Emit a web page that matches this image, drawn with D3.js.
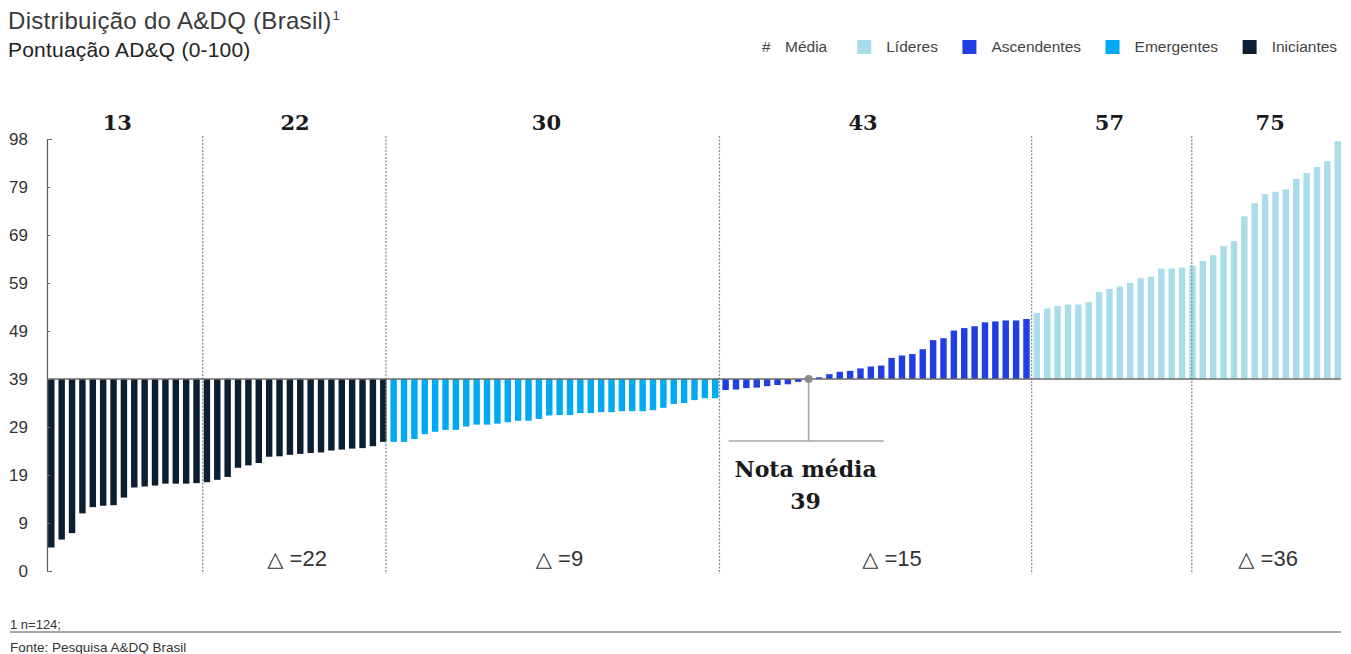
<!DOCTYPE html>
<html lang="pt-BR">
<head>
<meta charset="utf-8">
<title>Distribuição do A&amp;DQ (Brasil)</title>
<script src="https://cdn.jsdelivr.net/npm/d3@7"></script>
<style>
  html, body { margin: 0; padding: 0; background: #fff; }
  svg { display: block; }
  text { font-family: "Liberation Sans", Arial, Helvetica, sans-serif; }
  .serif { font-family: "DejaVu Serif", "Liberation Serif", Georgia, serif; font-weight: bold; }
</style>
</head>
<body>
<svg id="chart" width="1351" height="654"></svg>
<script>
// Pontuação AD&Q por empresa, ordenada, agrupada por estágio
const iniciantes = [4.4, 5.9, 7.1, 11.0, 12.3, 12.6, 12.7, 14.3, 16.4, 16.6, 16.8, 17.2, 17.2, 17.2, 17.3,
  17.5, 18.0, 18.6, 20.5, 21.0, 21.5, 22.8, 22.9, 23.2, 23.4, 23.6, 23.7, 24.1, 24.3, 24.5, 24.6, 25.0, 25.9];
const emergentes = [25.9, 25.9, 26.5, 27.5, 28.0, 28.4, 28.4, 29.1, 29.5, 29.5, 29.7, 30.0, 30.3, 30.3, 30.7, 31.4,
  31.5, 31.5, 31.9, 31.9, 32.1, 32.1, 32.3, 32.3, 32.3, 32.5, 33.0, 33.8, 34.0, 34.6, 35.0, 35.0];
const ascendentes = [36.7, 36.8, 37.1, 37.2, 37.5, 37.75, 37.9, 38.4, 39.0, 39.35, 40.0, 40.5, 40.7, 41.2, 41.6,
  41.8, 43.4, 43.9, 44.2, 45.2, 47.1, 47.5, 49.1, 49.6, 50.0, 50.8, 51.0, 51.2, 51.2, 51.5];
const lideres = [52.75, 53.7, 54.2, 54.5, 54.5, 55.0, 57.1, 57.75, 58.3, 59.0, 60.0, 60.3, 62.0, 62.0, 62.2,
  62.6, 63.6, 64.8, 66.7, 67.7, 72.9, 75.6, 77.5, 78.0, 78.5, 82.2, 84.5, 86.9, 89.2, 97.1];

const stageNames = ["Iniciantes", "Emergentes", "Ascendentes", "Líderes"];
const stageColors = ["#0c1f31", "#00aaf2", "#1f3fe3", "#a9dde9"];
const legendOrder = ["Líderes", "Ascendentes", "Emergentes", "Iniciantes"];

// Faixas: número de empresas por faixa, média da faixa e amplitude (Δ)
const bandSizes = [15, 18, 32, 30, 15, 15];
const bandMeans = [13, 22, 30, 43, 57, 75];
const bandDeltas = [null, 22, 9, 15, null, 36];

const yTicks = [0, 9, 19, 29, 39, 49, 59, 69, 79, 98];
const average = 39;

const title = "Distribuição do A&DQ (Brasil)";
const subtitle = "Pontuação AD&Q (0-100)";
const footnote = "1 n=124;";
const source = "Fonte: Pesquisa A&DQ Brasil";

// Tabela única de barras
const stages = [iniciantes, emergentes, ascendentes, lideres];
const data = [];
stages.forEach((vals, s) => vals.forEach(v => data.push({ i: data.length, v, stage: stageNames[s] })));

const svg = d3.select("#chart");
const plotLeft = 46, plotRight = 1343, plotTop = 139, plotBottom = 571;

const x = d3.scaleBand().domain(data.map(d => d.i)).range([plotLeft, plotRight]).paddingInner(0.38).paddingOuter(0.2);
// Eixo com marcas igualmente espaçadas (escala linear por trechos)
const y = d3.scaleLinear()
  .domain(yTicks)
  .range(yTicks.map((_, k) => plotBottom - k * (plotBottom - plotTop) / (yTicks.length - 1)));
const color = d3.scaleOrdinal().domain(stageNames).range(stageColors);

// Título
const t = svg.append("text").attr("x", 8).attr("y", 29).attr("font-size", 24)
  .attr("letter-spacing", 0.3).attr("fill", "#3a3a3a").text(title);
t.append("tspan").attr("font-size", 13).attr("dy", -9).attr("dx", 1).text("1");
svg.append("text").attr("x", 8).attr("y", 57).attr("font-size", 21).attr("letter-spacing", 0.2)
  .attr("fill", "#222").text(subtitle);

// Legenda
const lg = svg.append("g").attr("font-size", 15.5).attr("fill", "#444");
let lx = 762;
const legY = 52;
lg.append("text").attr("x", lx).attr("y", legY).text("#");
lx += 23;
const med = lg.append("text").attr("x", lx).attr("y", legY).text("Média");
lx += med.node().getComputedTextLength() + 30;
legendOrder.forEach(name => {
  lg.append("rect").attr("x", lx).attr("y", legY - 12).attr("width", 14).attr("height", 14).attr("fill", color(name));
  lx += 29;
  const tx = lg.append("text").attr("x", lx).attr("y", legY).text(name);
  lx += tx.node().getComputedTextLength() + 24.5;
});

// Limites das faixas
const bounds = [];
let acc = 0;
bandSizes.forEach(n => { bounds.push(acc); acc += n; });
bounds.push(acc);
const edgeX = k => {
  if (k === 0) return plotLeft + 1;
  if (k === data.length) return plotRight - 2;
  return (x(k - 1) + x.bandwidth() + x(k)) / 2;
};
// pequenos ajustes horizontais das divisórias e dos rótulos de cada faixa
const dividerNudge = [1, -2.5, -1, 0, 4.5];
const headerNudge = [-7, 0, -8, -13, 0, 6];
const deltaNudge = [0, 2, 5, 16, 0, 4];

// Barras a partir da nota média
svg.append("g").selectAll("rect").data(data).join("rect")
  .attr("x", d => x(d.i))
  .attr("width", x.bandwidth())
  .attr("y", d => Math.min(y(d.v), y(average)))
  .attr("height", d => Math.abs(y(d.v) - y(average)))
  .attr("fill", d => color(d.stage));

// Divisórias pontilhadas
svg.append("g").selectAll("line").data(bounds.slice(1, -1)).join("line")
  .attr("x1", (k, j) => edgeX(k) + dividerNudge[j]).attr("x2", (k, j) => edgeX(k) + dividerNudge[j])
  .attr("y1", plotTop - 3).attr("y2", plotBottom + 3)
  .attr("stroke", "#8a8f96").attr("stroke-width", 1.3).attr("stroke-dasharray", "2,1.5");

// Linha da média
svg.append("line")
  .attr("x1", plotLeft + 1).attr("x2", plotRight - 2)
  .attr("y1", y(average)).attr("y2", y(average))
  .attr("stroke", "#6b6b6b").attr("stroke-width", 1.6);

// Eixo Y
const yAxis = d3.axisLeft(y).tickValues(yTicks).tickSizeInner(-3).tickSizeOuter(-5).tickPadding(19);
const ay = svg.append("g").attr("transform", `translate(${plotLeft + 1},0)`).call(yAxis);
ay.select(".domain").attr("stroke", "#555").attr("stroke-width", 1.2);
ay.selectAll(".tick line").attr("stroke", "#777");
ay.selectAll(".tick text").attr("font-size", 17).attr("fill", "#333")
  .attr("font-family", "'Liberation Sans', Arial, sans-serif");

// Médias e amplitudes das faixas
bandSizes.forEach((n, b) => {
  const cx = (edgeX(bounds[b]) + edgeX(bounds[b + 1])) / 2;
  svg.append("text").attr("class", "serif").attr("x", cx + headerNudge[b]).attr("y", 130)
    .attr("text-anchor", "middle").attr("font-size", 21).attr("fill", "#1a1a1a").text(bandMeans[b]);
  if (bandDeltas[b] !== null) {
    const g = svg.append("text").attr("x", cx + deltaNudge[b]).attr("y", 566).attr("text-anchor", "middle")
      .attr("font-size", 22).attr("fill", "#333");
    g.append("tspan").attr("font-family", "'DejaVu Sans', sans-serif").attr("font-size", 21).text("△");
    g.append("tspan").text(" =" + bandDeltas[b]);
  }
});

// Marcador da nota média
const avgBar = data.find(d => d.v === average);
const mx = x(avgBar.i) + x.bandwidth() / 2;
const my = y(average);
const ann = svg.append("g").attr("stroke", "#a6a6a6").attr("stroke-width", 1.6);
ann.append("line").attr("x1", mx).attr("x2", mx).attr("y1", my).attr("y2", my + 62);
ann.append("line").attr("x1", mx - 80).attr("x2", mx + 75).attr("y1", my + 62).attr("y2", my + 62);
svg.append("circle").attr("cx", mx).attr("cy", my).attr("r", 4).attr("fill", "#8c8c8c");
svg.append("text").attr("class", "serif").attr("x", mx - 3).attr("y", 477).attr("text-anchor", "middle")
  .attr("font-size", 22).attr("fill", "#1a1a1a").text("Nota média");
svg.append("text").attr("class", "serif").attr("x", mx - 3).attr("y", 509).attr("text-anchor", "middle")
  .attr("font-size", 22).attr("fill", "#1a1a1a").text(average);

// Notas de rodapé
svg.append("text").attr("x", 10).attr("y", 629).attr("font-size", 13).attr("fill", "#333").text(footnote);
svg.append("line").attr("x1", 10).attr("x2", 1341).attr("y1", 632).attr("y2", 632)
  .attr("stroke", "#8a8a8a").attr("stroke-width", 1.5);
svg.append("text").attr("x", 10).attr("y", 652).attr("font-size", 13.5).attr("fill", "#333").text(source);
</script>
</body>
</html>
